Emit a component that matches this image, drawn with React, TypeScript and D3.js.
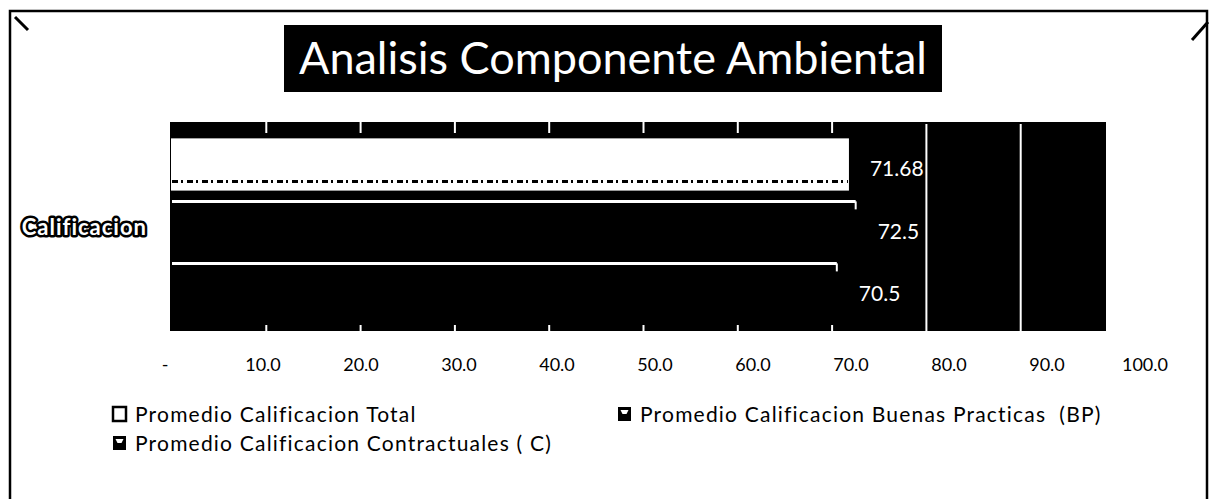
import * as d3 from "d3";
import React from "react";

// chart values
const categories = ["Calificacion"];
const seriesNames = [
	"Promedio Calificacion Total",
	"Promedio Calificacion Buenas Practicas  (BP)",
	"Promedio Calificacion Contractuales ( C)",
];
const seriesValues = [71.68, 72.5, 70.5];
const valueLabels = ["71.68", "72.5", "70.5"];
const tickValues = [0, 10, 20, 30, 40, 50, 60, 70, 80, 90, 100];
const tickLabels = ["-", "10.0", "20.0", "30.0", "40.0", "50.0", "60.0", "70.0", "80.0", "90.0", "100.0"];

const W = 1213;
const H = 499;
const FONT = "Lato, 'Open Sans', sans-serif";

const plot = { left: 170, right: 1106, top: 122, bottom: 331 };

const App = () => {
	const x = d3.scaleLinear().domain([0, 100]).range([172, 1115]);
	// tick labels sit a bit wider than the plot in the scan
	const xLabel = d3.scaleLinear().domain([0, 100]).range([165, 1145]);
	const yCat = d3.scaleBand().domain(categories).range([plot.top, plot.bottom]);
	const ySeries = d3
		.scaleBand<number>()
		.domain(d3.range(seriesNames.length))
		.range([0, yCat.bandwidth()])
		.paddingInner(0.19)
		.paddingOuter(0.28);

	const maxVal = d3.max(seriesValues) ?? 0;
	const fullGrid = tickValues.filter((t) => t > maxVal + 5 && t < 100);
	const stubGrid = tickValues.filter((t) => t > 0 && t <= maxVal + 5);

	const legendPos = [
		{ x: 113, y: 414 },
		{ x: 618, y: 414 },
		{ x: 113, y: 443 },
	];

	const cat = categories[0];
	const y0 = yCat(cat) ?? 0;

	return (
		<svg
			width={W}
			height={H}
			style={{ position: "absolute", left: 0, top: 0, background: "#fff" }}
		>
			{/* frame */}
			<rect x={10} y={11} width={1197} height={520} fill="none" stroke="#000" strokeWidth={2.5} />
			<line x1={15} y1={17} x2={28} y2={30} stroke="#000" strokeWidth={3} />
			<line x1={1192} y1={40} x2={1208} y2={22} stroke="#000" strokeWidth={3} />

			{/* title */}
			<rect x={284} y={25} width={658} height={67} fill="#000" />
			<text x={613} y={74} textAnchor="middle" fill="#fff" fontFamily={FONT} fontSize={45}>
				Analisis Componente Ambiental
			</text>

			{/* plot area */}
			<rect
				x={plot.left}
				y={plot.top}
				width={plot.right - plot.left}
				height={plot.bottom - plot.top}
				fill="#000"
			/>

			{fullGrid.map((t) => (
				<line key={t} x1={x(t)} x2={x(t)} y1={plot.top + 2} y2={plot.bottom} stroke="#fff" strokeWidth={2} />
			))}
			{stubGrid.map((t) => (
				<g key={t}>
					<line x1={x(t)} x2={x(t)} y1={plot.top} y2={plot.top + 11} stroke="#fff" strokeWidth={2} />
					<line x1={x(t)} x2={x(t)} y1={plot.bottom - 6} y2={plot.bottom} stroke="#fff" strokeWidth={2} />
				</g>
			))}

			{/* bars */}
			{seriesValues.map((v, i) => {
				const by = y0 + (ySeries(i) ?? 0);
				const bh = ySeries.bandwidth();
				const bx = x(0);
				const bw = x(v) - x(0);
				if (i === 0) {
					return (
						<g key={i}>
							<rect x={bx} y={by} width={bw} height={bh} fill="#fff" stroke="#fff" strokeWidth={2} />
							<line x1={bx} x2={bx + bw} y1={by + bh - 8} y2={by + bh - 8} stroke="#000" strokeWidth={3} strokeDasharray="6 3 2 4" />
						</g>
					);
				}
				return (
					<g key={i}>
						<rect x={bx} y={by} width={bw} height={bh} fill="#000" />
						<line x1={bx} x2={bx + bw} y1={by} y2={by} stroke="#fff" strokeWidth={3} />
						<line x1={bx + bw} x2={bx + bw} y1={by} y2={by + 8} stroke="#fff" strokeWidth={2} />
					</g>
				);
			})}

			{/* value labels */}
			{seriesValues.map((v, i) => (
				<text
					key={i}
					x={x(v) + 22}
					y={y0 + (ySeries(i) ?? 0) + ySeries.bandwidth() / 2 + 12}
					fill="#fff"
					fontFamily={FONT}
					fontSize={21}
				>
					{valueLabels[i]}
				</text>
			))}

			{/* category label */}
			<text
				x={147}
				y={y0 + yCat.bandwidth() / 2 + 8}
				textAnchor="end"
				fill="#fff"
				stroke="#000"
				strokeWidth={5}
				strokeLinejoin="round"
				paintOrder="stroke"
				fontFamily={FONT}
				fontWeight="bold"
				fontSize={22}
				letterSpacing={1}
			>
				{cat}
			</text>

			{/* x tick labels */}
			{tickValues.map((t, i) => (
				<text key={t} x={xLabel(t)} y={371} textAnchor="middle" fill="#000" fontFamily={FONT} fontSize={18}>
					{tickLabels[i]}
				</text>
			))}

			{/* legend */}
			{seriesNames.map((name, i) => {
				const p = legendPos[i];
				return (
					<g key={name} transform={`translate(${p.x},${p.y})`}>
						{i === 0 ? (
							<rect x={0} y={-7} width={13} height={14} fill="#fff" stroke="#000" strokeWidth={2.5} />
						) : (
							<g>
								<rect x={0} y={-7} width={13} height={14} fill="#000" />
								<path d="M2.5,-4 L10.5,-4 L8.5,0 L4.5,0 Z" fill="#fff" />
							</g>
						)}
						<text
							x={22}
							y={8}
							fill="#000"
							fontFamily={FONT}
							fontSize={21}
							letterSpacing={1.2}
							style={{ whiteSpace: "pre" }}
						>
							{name}
						</text>
					</g>
				);
			})}
		</svg>
	);
};

export default App;
